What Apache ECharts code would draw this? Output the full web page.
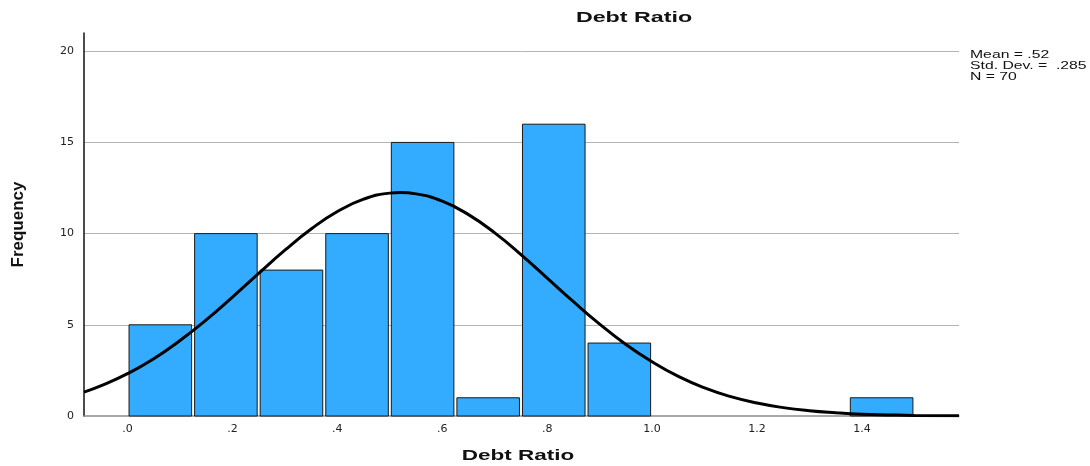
<!DOCTYPE html>
<html>
<head>
<meta charset="utf-8">
<style>
  html, body { margin: 0; padding: 0; background: #fff; }
  #chart { width: 1090px; height: 466px; }
</style>
<script src="https://cdn.jsdelivr.net/npm/echarts@6/dist/echarts.min.js"></script>
</head>
<body>
<div id="chart"></div>
<script>
// histogram bins (Debt Ratio), width .125
var binStart = [0, 0.125, 0.25, 0.375, 0.5, 0.625, 0.75, 0.875, 1.375];
var binEnd   = [0.125, 0.25, 0.375, 0.5, 0.625, 0.75, 0.875, 1.0, 1.5];
var counts   = [5, 10, 8, 10, 15, 1, 16, 4, 1];

// normal curve
var curveX = [-0.083, -0.05, 0, 0.05, 0.1, 0.15, 0.2, 0.25, 0.3, 0.35, 0.4, 0.45, 0.5, 0.52, 0.55, 0.6, 0.65, 0.7, 0.75,
              0.8, 0.85, 0.9, 0.95, 1.0, 1.05, 1.1, 1.15, 1.2, 1.25, 1.3, 1.35, 1.4, 1.45, 1.5, 1.585];
var curveY = [1.31, 1.66, 2.32, 3.14, 4.14, 5.27, 6.52, 7.82, 9.09, 10.25, 11.21, 11.89, 12.22, 12.25, 12.18, 11.78, 11.04, 10.04, 8.85,
              7.56, 6.27, 5.04, 3.92, 2.97, 2.17, 1.54, 1.06, 0.71, 0.46, 0.29, 0.18, 0.10, 0.06, 0.03, 0.01];

var xTicks = [0, 0.2, 0.4, 0.6, 0.8, 1.0, 1.2, 1.4];
var xTickLabels = ['.0', '.2', '.4', '.6', '.8', '1.0', '1.2', '1.4'];

var statLines = ['Mean = .52', 'Std. Dev. =  .285', 'N = 70'];

var barData = binStart.map(function (s, i) { return [s, binEnd[i], counts[i]]; });
var lineData = curveX.map(function (x, i) { return [x, curveY[i]]; });

var chart = echarts.init(document.getElementById('chart'));

// spss output looks stretched sideways, so texts get a scaleX
var graphics = [
  { type: 'text', x: 634, y: 18, scaleX: 1.55,
    style: { text: 'Debt Ratio', align: 'center', verticalAlign: 'middle', font: 'bold 15px "Liberation Sans"', fill: '#111' } },
  { type: 'text', x: 518, y: 456, scaleX: 1.5,
    style: { text: 'Debt Ratio', align: 'center', verticalAlign: 'middle', font: 'bold 15px "Liberation Sans"', fill: '#111' } }
];
statLines.forEach(function (t, i) {
  graphics.push({ type: 'text', x: 970, y: 55.5 + i * 11, scaleX: 1.5,
    style: { text: t, align: 'left', verticalAlign: 'middle', font: '10.5px "Liberation Sans"', fill: '#111' } });
});

var option = {
  animation: false,
  backgroundColor: '#fff',
  grid: { left: 84, right: 131, top: 33, bottom: 50, outerBoundsMode: 'none' },
  xAxis: {
    type: 'value',
    min: -0.083,
    max: 1.585,
    axisLine: { onZero: false, lineStyle: { color: '#8c8c8c', width: 1.5 } },
    axisTick: { show: false },
    splitLine: { show: false },
    axisLabel: {
      customValues: xTicks,
      margin: 8,
      fontFamily: 'DejaVu Sans',
      fontSize: 11,
      color: '#222',
      formatter: function (v) {
        var i = xTicks.indexOf(Math.round(v * 10) / 10);
        return i >= 0 ? xTickLabels[i] : '';
      }
    }
  },
  yAxis: {
    type: 'value',
    min: 0,
    max: 21,
    interval: 5,
    name: 'Frequency',
    nameLocation: 'middle',
    nameGap: 57,
    nameTextStyle: { fontFamily: 'Liberation Sans', fontWeight: 'bold', fontSize: 17, color: '#111' },
    axisLine: { show: true, onZero: false, lineStyle: { color: '#111', width: 1.5 } },
    axisTick: { show: false },
    axisLabel: { showMaxLabel: false, margin: 10, fontFamily: 'DejaVu Sans', fontSize: 11, color: '#222' },
    splitLine: { showMaxLine: false, showMinLine: false, lineStyle: { color: '#b4b4b4', width: 1 } }
  },
  graphic: graphics,
  series: [
    {
      type: 'custom',
      data: barData,
      encode: { x: [0, 1], y: 2 },
      z: 2,
      renderItem: function (params, api) {
        var p0 = api.coord([api.value(0), 0]);
        var p1 = api.coord([api.value(1), api.value(2)]);
        return {
          type: 'rect',
          shape: { x: p0[0] + 1.5, y: p1[1], width: p1[0] - p0[0] - 3, height: p0[1] - p1[1] },
          style: { fill: '#33abff', stroke: '#1a1a1a', lineWidth: 1 }
        };
      }
    },
    {
      type: 'line',
      data: lineData,
      smooth: true,
      symbol: 'none',
      z: 5,
      lineStyle: { color: '#000', width: 3 }
    }
  ]
};

chart.setOption(option);
</script>
</body>
</html>
